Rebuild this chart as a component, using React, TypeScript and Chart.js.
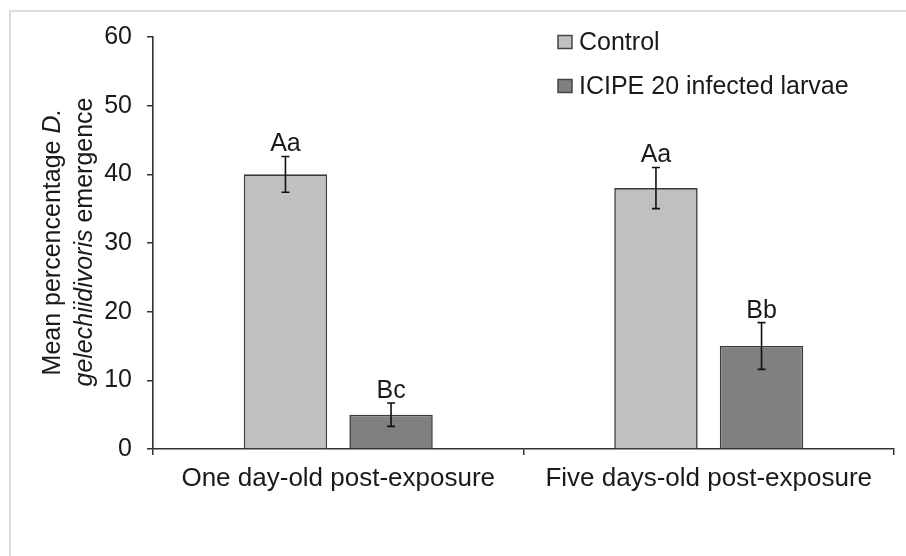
import React, { useEffect, useRef } from "react";
import { Chart, registerables } from "chart.js";

Chart.register(...registerables);

const categories = ["One day-old post-exposure", "Five days-old post-exposure"];
const seriesNames = ["Control", "ICIPE 20 infected larvae"];
const controlValues = [40, 38];
const controlErrors = [2.6, 3.0];
const icipeValues = [5, 15];
const icipeErrors = [1.7, 3.4];
const controlLetters = ["Aa", "Aa"];
const icipeLetters = ["Bc", "Bb"];
const yMin = 0;
const yMax = 60;
const yStep = 10;

const FONT = "'Liberation Sans', Arial, sans-serif";
const TEXT = "#1a1a1a";
const AXIS = "#333333";
const fills = ["#c0c0c0", "#808080"];
const errors = [controlErrors, icipeErrors];
const letters = [controlLetters, icipeLetters];

const framePlugin = {
  id: "frame",
  beforeDraw(chart: any) {
    const ctx = chart.ctx;
    ctx.save();
    ctx.fillStyle = "#ffffff";
    ctx.fillRect(0, 0, chart.width, chart.height);
    ctx.strokeStyle = "#dddddd";
    ctx.lineWidth = 2;
    ctx.beginPath();
    ctx.moveTo(10, chart.height);
    ctx.lineTo(10, 11);
    ctx.lineTo(chart.width, 11);
    ctx.stroke();
    ctx.restore();
  },
};

const extrasPlugin = {
  id: "extras",
  afterDatasetsDraw(chart: any) {
    const ctx = chart.ctx;
    const yScale = chart.scales.y;
    ctx.save();
    chart.data.datasets.forEach((ds: any, di: number) => {
      const meta = chart.getDatasetMeta(di);
      meta.data.forEach((bar: any, i: number) => {
        const v = ds.data[i];
        const e = errors[di][i];
        const x = bar.x;
        const yt = yScale.getPixelForValue(v + e);
        const yb = yScale.getPixelForValue(v - e);
        ctx.strokeStyle = "#111111";
        ctx.lineWidth = 1.6;
        ctx.beginPath();
        ctx.moveTo(x, yt);
        ctx.lineTo(x, yb);
        ctx.moveTo(x - 4, yt);
        ctx.lineTo(x + 4, yt);
        ctx.moveTo(x - 4, yb);
        ctx.lineTo(x + 4, yb);
        ctx.stroke();
        ctx.fillStyle = TEXT;
        ctx.font = `25px ${FONT}`;
        ctx.textAlign = "center";
        ctx.textBaseline = "alphabetic";
        ctx.fillText(letters[di][i], x, yt - 5);
      });
    });

    // legend
    ctx.font = `25px ${FONT}`;
    ctx.textAlign = "left";
    ctx.textBaseline = "middle";
    const legendY = [42, 86];
    seriesNames.forEach((name, i) => {
      ctx.fillStyle = fills[i];
      ctx.fillRect(558, legendY[i] - 6.5, 14, 13);
      ctx.strokeStyle = "#444444";
      ctx.lineWidth = 1.5;
      ctx.strokeRect(558, legendY[i] - 6.5, 14, 13);
      ctx.fillStyle = TEXT;
      ctx.fillText(name, 579, legendY[i] + 1);
    });

    // y-axis title (two lines, mixed italic)
    const drawMixed = (parts: [string, boolean][], cx: number, cy: number) => {
      ctx.save();
      ctx.translate(cx, cy);
      ctx.rotate(-Math.PI / 2);
      let total = 0;
      parts.forEach(([t, it]) => {
        ctx.font = `${it ? "italic " : ""}25px ${FONT}`;
        total += ctx.measureText(t).width;
      });
      let x = -total / 2;
      ctx.textAlign = "left";
      ctx.textBaseline = "middle";
      ctx.fillStyle = TEXT;
      parts.forEach(([t, it]) => {
        ctx.font = `${it ? "italic " : ""}25px ${FONT}`;
        ctx.fillText(t, x, 0);
        x += ctx.measureText(t).width;
      });
      ctx.restore();
    };
    drawMixed([["Mean percencentage ", false], ["D.", true]], 53, 242);
    drawMixed([["gelechiidivoris", true], [" emergence", false]], 85, 242);
    ctx.restore();
  },
};

export default function App() {
  const ref = useRef<HTMLCanvasElement | null>(null);
  useEffect(() => {
    document.body.style.margin = "0";
    if (!ref.current) return;
    const chart = new Chart(ref.current, {
      type: "bar",
      data: {
        labels: categories,
        datasets: [
          {
            label: seriesNames[0],
            data: controlValues,
            backgroundColor: fills[0],
            borderColor: "#3a3a3a",
            borderWidth: 1.6,
            categoryPercentage: 0.57,
            barPercentage: 0.79,
          },
          {
            label: seriesNames[1],
            data: icipeValues,
            backgroundColor: fills[1],
            borderColor: "#3a3a3a",
            borderWidth: 1.6,
            categoryPercentage: 0.57,
            barPercentage: 0.79,
          },
        ],
      },
      options: {
        responsive: false,
        animation: false,
        layout: { padding: { left: 0, top: 37, right: 12, bottom: 0 } },
        plugins: {
          legend: { display: false },
          tooltip: { enabled: false },
          title: { display: false },
        },
        scales: {
          x: {
            grid: {
              display: true,
              drawOnChartArea: false,
              drawTicks: true,
              tickLength: 6,
              color: AXIS,
              lineWidth: 1.5,
              offset: true,
            },
            border: { display: true, color: AXIS, width: 1.6 },
            ticks: {
              color: TEXT,
              font: { family: FONT, size: 26 },
              padding: 8,
              maxRotation: 0,
            },
            afterFit: (s: any) => {
              s.height = 107;
            },
          },
          y: {
            min: yMin,
            max: yMax,
            grid: {
              display: true,
              drawOnChartArea: false,
              drawTicks: true,
              tickLength: 6,
              color: AXIS,
              lineWidth: 1.5,
            },
            border: { display: true, color: AXIS, width: 1.6 },
            ticks: {
              stepSize: yStep,
              color: TEXT,
              font: { family: FONT, size: 25 },
              padding: 15,
            },
            afterFit: (s: any) => {
              s.width = 153;
            },
          },
        },
      },
      plugins: [framePlugin, extrasPlugin],
    } as any);
    return () => chart.destroy();
  }, []);
  return (
    <div style={{ position: "fixed", left: 0, top: 0, width: 906, height: 556 }}>
      <canvas ref={ref} width={906} height={556} style={{ width: 906, height: 556 }} />
    </div>
  );
}
